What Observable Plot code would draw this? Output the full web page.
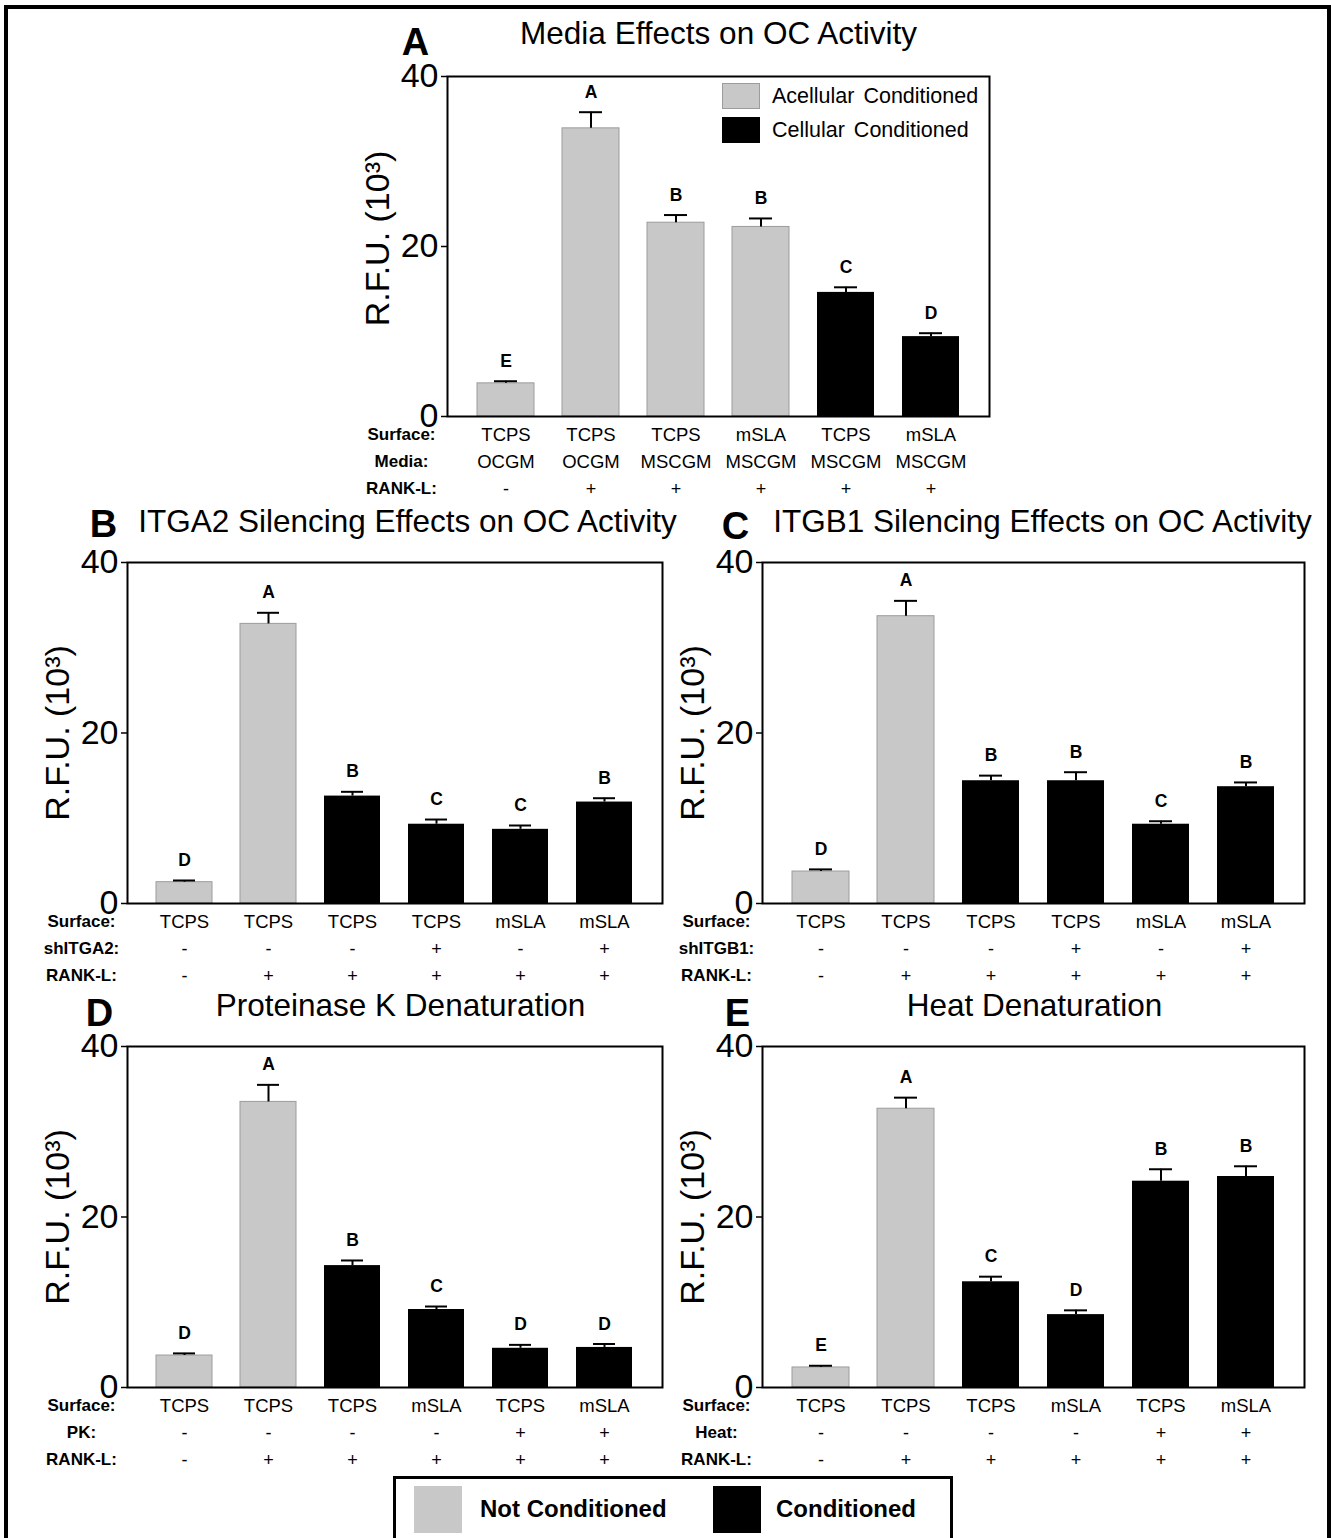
<!DOCTYPE html>
<html>
<head>
<meta charset="utf-8">
<script src="https://cdn.jsdelivr.net/npm/d3@7"></script>
<script src="https://cdn.jsdelivr.net/npm/@observablehq/plot@0.6"></script>
<style>
  html, body { margin: 0; padding: 0; background: #fff; }
  #fig { position: relative; width: 1331px; height: 1538px; overflow: hidden; background: #fff;
         font-family: "Liberation Sans", Arial, Helvetica, sans-serif; }
  #border { position: absolute; left: 4px; top: 5px; width: 1327px; height: 1600px; box-sizing: border-box;
            border: 4px solid #000; border-bottom: none; }
  .panel { position: absolute; }
  .panel svg { max-width: none !important; overflow: visible; background: transparent !important; }
  .leg { position: absolute; display: flex; align-items: center; }
  .sw { display: inline-block; box-sizing: border-box; }
  #legA { left: 722px; top: 79px; }
  #legA .row { display: flex; align-items: center; height: 34px; }
  #legA .sw { width: 38px; height: 26px; margin-right: 12px; }
  #legA span.t { font-size: 21.5px; word-spacing: 3px; color: #000; }
  #legBottom { left: 393px; top: 1476px; width: 560px; height: 80px; box-sizing: border-box;
               border: 3px solid #000; }
  #legBottom .sw { position: absolute; width: 48px; height: 47px; top: 7px; }
  #legBottom .t { position: absolute; top: 16px; font-size: 24px; font-weight: bold; color: #000; }
</style>
</head>
<body>
<div id="fig">
  <div id="border"></div>
</div>
<script>
// ---------------- DATA ----------------
// Panel A: Media Effects on OC Activity
const surfaceA = ["TCPS", "TCPS", "TCPS", "mSLA", "TCPS", "mSLA"];
const mediaA   = ["OCGM", "OCGM", "MSCGM", "MSCGM", "MSCGM", "MSCGM"];
const rankA    = ["-", "+", "+", "+", "+", "+"];
const meanA    = [3.9, 33.9, 22.8, 22.3, 14.6, 9.4];
const errA     = [0.25, 1.9, 0.9, 1.0, 0.6, 0.4];
const letterA  = ["E", "A", "B", "B", "C", "D"];
const groupA   = ["light", "light", "light", "light", "dark", "dark"];

// Panel B: ITGA2 silencing
const surfaceB = ["TCPS", "TCPS", "TCPS", "TCPS", "mSLA", "mSLA"];
const shITGA2  = ["-", "-", "-", "+", "-", "+"];
const rankB    = ["-", "+", "+", "+", "+", "+"];
const meanB    = [2.5, 32.8, 12.6, 9.3, 8.7, 11.9];
const errB     = [0.2, 1.3, 0.5, 0.55, 0.45, 0.45];
const letterB  = ["D", "A", "B", "C", "C", "B"];
const groupB   = ["light", "light", "dark", "dark", "dark", "dark"];

// Panel C: ITGB1 silencing
const surfaceC = ["TCPS", "TCPS", "TCPS", "TCPS", "mSLA", "mSLA"];
const shITGB1  = ["-", "-", "-", "+", "-", "+"];
const rankC    = ["-", "+", "+", "+", "+", "+"];
const meanC    = [3.75, 33.7, 14.4, 14.4, 9.3, 13.7];
const errC     = [0.25, 1.8, 0.6, 1.0, 0.35, 0.5];
const letterC  = ["D", "A", "B", "B", "C", "B"];
const groupC   = ["light", "light", "dark", "dark", "dark", "dark"];

// Panel D: Proteinase K denaturation
const surfaceD = ["TCPS", "TCPS", "TCPS", "mSLA", "TCPS", "mSLA"];
const pkD      = ["-", "-", "-", "-", "+", "+"];
const rankD    = ["-", "+", "+", "+", "+", "+"];
const meanD    = [3.75, 33.5, 14.3, 9.15, 4.6, 4.7];
const errD     = [0.25, 2.0, 0.6, 0.35, 0.4, 0.4];
const letterD  = ["D", "A", "B", "C", "D", "D"];
const groupD   = ["light", "light", "dark", "dark", "dark", "dark"];

// Panel E: Heat denaturation
const surfaceE = ["TCPS", "TCPS", "TCPS", "mSLA", "TCPS", "mSLA"];
const heatE    = ["-", "-", "-", "-", "+", "+"];
const rankE    = ["-", "+", "+", "+", "+", "+"];
const meanE    = [2.35, 32.7, 12.4, 8.55, 24.2, 24.75];
const errE     = [0.2, 1.3, 0.6, 0.5, 1.4, 1.2];
const letterE  = ["E", "A", "C", "D", "B", "B"];
const groupE   = ["light", "light", "dark", "dark", "dark", "dark"];

const yTicks = [0, 20, 40];
const yLabel = "R.F.U. (10³)";

// ---------------- DRAWING ----------------
const FONT = "Liberation Sans, Arial, Helvetica, sans-serif";
const LIGHT = "#c8c8c8";

function panel(cfg) {
  const idx = d3.range(cfg.mean.length);
  const X = i => i;
  const rowDy = [18.5, 45.5, 72.5];
  const marks = [
    Plot.barY(idx.filter(i => cfg.group[i] === "light"), {
      x: X, y: i => cfg.mean[i], fill: LIGHT, stroke: "#9c9c9c", strokeWidth: 1
    }),
    Plot.barY(idx.filter(i => cfg.group[i] === "dark"), {
      x: X, y: i => cfg.mean[i], fill: "#000"
    }),
    Plot.ruleX(idx, {x: X, y1: i => cfg.mean[i], y2: i => cfg.mean[i] + cfg.err[i], stroke: "#000", strokeWidth: 2}),
    Plot.tickY(idx, {x: X, y: i => cfg.mean[i] + cfg.err[i], stroke: "#000", strokeWidth: 2, insetLeft: 17, insetRight: 17}),
    Plot.text(idx, {x: X, y: i => cfg.mean[i] + cfg.err[i], text: i => cfg.letter[i], dy: -20,
      fontSize: 17.5, fontWeight: "bold", fill: "#000"}),
    Plot.frame({stroke: "#000", strokeWidth: 2}),
    Plot.axisY({ticks: yTicks, tickSize: 6, tickPadding: 3, fontSize: 34, label: null,
      tickFormat: d => String(d), strokeWidth: 1.5, fill: "#000"}),
    Plot.text([yLabel], {frameAnchor: "left", dx: cfg.ylabDx, dy: cfg.ylabDy || 0, rotate: -90,
      textAnchor: "middle", lineAnchor: "middle", fontSize: 34, fill: "#000"}),
    Plot.text([cfg.title], {frameAnchor: "top-left", dx: cfg.titleDx, dy: cfg.titleDy,
      textAnchor: "middle", lineAnchor: "middle", fontSize: 31.5, fill: "#000"}),
    Plot.text([cfg.tag], {frameAnchor: "top-left", dx: cfg.tagDx, dy: cfg.tagDy,
      textAnchor: "middle", lineAnchor: "middle", fontSize: 38, fontWeight: "bold", fill: "#000"})
  ];
  cfg.rows.forEach((r, k) => {
    marks.push(Plot.text(idx, {x: X, y: () => 0, text: i => r.values[i], dy: rowDy[k],
      lineAnchor: "middle", fontSize: r.values.some(v => v.length > 1) ? 18.5 : 18, fill: "#000"}));
    marks.push(Plot.text([r.label], {frameAnchor: "bottom-left", dx: -46, dy: rowDy[k],
      textAnchor: "middle", lineAnchor: "middle", fontSize: 17, fontWeight: "bold", fill: "#000"}));
  });
  const svg = Plot.plot({
    width: cfg.width, height: cfg.height,
    marginTop: cfg.mt, marginRight: cfg.mr, marginBottom: cfg.mb, marginLeft: cfg.ml,
    style: {fontFamily: FONT, background: "transparent", overflow: "visible", maxWidth: "none"},
    x: {type: "band", domain: idx, padding: 0.33, axis: null},
    y: {domain: [0, 40], axis: null},
    marks
  });
  const div = document.createElement("div");
  div.className = "panel";
  div.style.left = cfg.left + "px";
  div.style.top = cfg.top + "px";
  div.appendChild(svg);
  document.getElementById("fig").appendChild(div);
}

panel({
  left: 340, top: 0, width: 660, height: 500, mt: 76, mr: 11, mb: 84, ml: 107,
  title: "Media Effects on OC Activity", titleDx: 271, titleDy: -43,
  tag: "A", tagDx: -32, tagDy: -34, ylabDx: -69, ylabDy: -8,
  mean: meanA, err: errA, letter: letterA, group: groupA,
  rows: [{label: "Surface:", values: surfaceA}, {label: "Media:", values: mediaA}, {label: "RANK-L:", values: rankA}]
});
panel({
  left: 0, top: 500, width: 680, height: 490, mt: 62, mr: 18, mb: 87, ml: 127,
  title: "ITGA2 Silencing Effects on OC Activity", titleDx: 280, titleDy: -41,
  tag: "B", tagDx: -24, tagDy: -38, ylabDx: -69,
  mean: meanB, err: errB, letter: letterB, group: groupB,
  rows: [{label: "Surface:", values: surfaceB}, {label: "shITGA2:", values: shITGA2}, {label: "RANK-L:", values: rankB}]
});
panel({
  left: 665, top: 500, width: 666, height: 490, mt: 62, mr: 27, mb: 87, ml: 97,
  title: "ITGB1 Silencing Effects on OC Activity", titleDx: 280, titleDy: -41,
  tag: "C", tagDx: -27, tagDy: -36, ylabDx: -69,
  mean: meanC, err: errC, letter: letterC, group: groupC,
  rows: [{label: "Surface:", values: surfaceC}, {label: "shITGB1:", values: shITGB1}, {label: "RANK-L:", values: rankC}]
});
panel({
  left: 0, top: 985, width: 680, height: 490, mt: 61, mr: 18, mb: 88, ml: 127,
  title: "Proteinase K Denaturation", titleDx: 273, titleDy: -41,
  tag: "D", tagDx: -28, tagDy: -33, ylabDx: -69,
  mean: meanD, err: errD, letter: letterD, group: groupD,
  rows: [{label: "Surface:", values: surfaceD}, {label: "PK:", values: pkD}, {label: "RANK-L:", values: rankD}]
});
panel({
  left: 665, top: 985, width: 666, height: 490, mt: 61, mr: 27, mb: 88, ml: 97,
  title: "Heat Denaturation", titleDx: 272, titleDy: -41,
  tag: "E", tagDx: -25, tagDy: -33, ylabDx: -69,
  mean: meanE, err: errE, letter: letterE, group: groupE,
  rows: [{label: "Surface:", values: surfaceE}, {label: "Heat:", values: heatE}, {label: "RANK-L:", values: rankE}]
});

// Legends (HTML)
const fig = document.getElementById("fig");
const legA = document.createElement("div");
legA.id = "legA"; legA.className = "leg"; legA.style.flexDirection = "column"; legA.style.alignItems = "flex-start";
[["Acellular Conditioned", LIGHT, "#9c9c9c"], ["Cellular Conditioned", "#000", "#000"]].forEach(([t, c, s]) => {
  const row = document.createElement("div"); row.className = "row";
  const sw = document.createElement("span"); sw.className = "sw"; sw.style.background = c; sw.style.border = "1px solid " + s;
  const tx = document.createElement("span"); tx.className = "t"; tx.textContent = t;
  row.appendChild(sw); row.appendChild(tx); legA.appendChild(row);
});
fig.appendChild(legA);

const legB = document.createElement("div");
legB.id = "legBottom"; legB.className = "leg";
[["Not Conditioned", LIGHT, 18, 84], ["Conditioned", "#000", 317, 380]].forEach(([t, c, sx, tx]) => {
  const sw = document.createElement("span"); sw.className = "sw"; sw.style.background = c; sw.style.left = sx + "px";
  const tt = document.createElement("span"); tt.className = "t"; tt.textContent = t; tt.style.left = tx + "px";
  legB.appendChild(sw); legB.appendChild(tt);
});
fig.appendChild(legB);
</script>
</body>
</html>
